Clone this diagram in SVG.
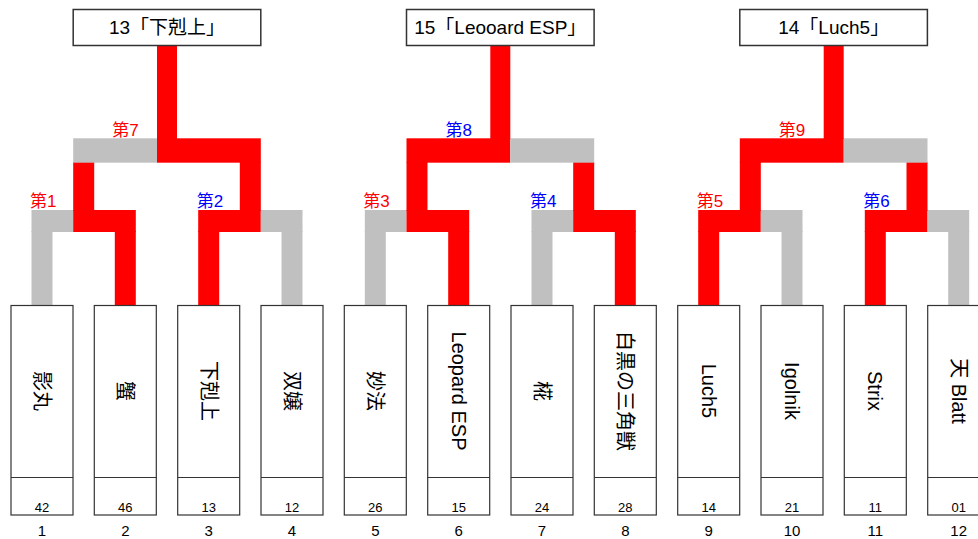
<svg xmlns="http://www.w3.org/2000/svg" width="978" height="539" viewBox="0 0 978 539">
<style>
.r{fill:#ff0000}
.g{fill:#c0c0c0}
.tb{fill:#fff;stroke:#333;stroke-width:1.5}
.pb{fill:#fff;stroke:#333;stroke-width:1.2}
.t{font-family:"Liberation Sans","Noto Sans CJK JP",sans-serif;fill:#000}
.tt{font-size:19px;text-anchor:middle}
.nm{font-size:20px;text-anchor:middle;dominant-baseline:central}
.sd{font-size:13px;text-anchor:middle}
.ix{font-size:15px;text-anchor:middle}
.lb{font-family:"Liberation Sans","Noto Sans CJK JP",sans-serif;font-size:17px}
.lr{fill:#ff0000}
.lbl{fill:#0000ff}
</style>
<rect width="978" height="539" fill="#fff"/>
<g id="connectors">
  <rect class="g" x="31.5" y="231" width="21" height="75"/>
  <rect class="r" x="114.8" y="231" width="21" height="75"/>
  <rect class="r" x="198.2" y="231" width="21" height="75"/>
  <rect class="g" x="281.5" y="231" width="21" height="75"/>
  <rect class="g" x="364.8" y="231" width="21" height="75"/>
  <rect class="r" x="448.2" y="231" width="21" height="75"/>
  <rect class="g" x="531.5" y="231" width="21" height="75"/>
  <rect class="r" x="614.8" y="231" width="21" height="75"/>
  <rect class="r" x="698.2" y="231" width="21" height="75"/>
  <rect class="g" x="781.5" y="231" width="21" height="75"/>
  <rect class="r" x="864.8" y="231" width="21" height="75"/>
  <rect class="g" x="948.2" y="231" width="21" height="75"/>
  <rect class="g" x="31.5" y="210" width="41.7" height="22"/>
  <rect class="r" x="73.2" y="210" width="62.6" height="22"/>
  <rect class="r" x="198.2" y="210" width="62.6" height="22"/>
  <rect class="g" x="260.8" y="210" width="41.7" height="22"/>
  <rect class="g" x="364.8" y="210" width="41.7" height="22"/>
  <rect class="r" x="406.5" y="210" width="62.7" height="22"/>
  <rect class="g" x="531.5" y="210" width="41.7" height="22"/>
  <rect class="r" x="573.2" y="210" width="62.6" height="22"/>
  <rect class="r" x="698.2" y="210" width="62.6" height="22"/>
  <rect class="g" x="760.8" y="210" width="41.7" height="22"/>
  <rect class="r" x="864.8" y="210" width="62.7" height="22"/>
  <rect class="g" x="927.5" y="210" width="41.7" height="22"/>
  <rect class="r" x="73.2" y="162" width="21" height="49"/>
  <rect class="r" x="239.8" y="162" width="21" height="49"/>
  <rect class="r" x="406.5" y="162" width="21" height="49"/>
  <rect class="r" x="573.2" y="162" width="21" height="49"/>
  <rect class="r" x="739.8" y="162" width="21" height="49"/>
  <rect class="r" x="906.5" y="162" width="21" height="49"/>
  <rect class="g" x="73.2" y="138.3" width="83.8" height="24.4"/>
  <rect class="r" x="157" y="138.3" width="103.8" height="24.4"/>
  <rect class="r" x="406.5" y="138.3" width="103.8" height="24.4"/>
  <rect class="g" x="510.3" y="138.3" width="83.9" height="24.4"/>
  <rect class="r" x="739.8" y="138.3" width="103.9" height="24.4"/>
  <rect class="g" x="843.7" y="138.3" width="83.8" height="24.4"/>
  <rect class="r" x="157" y="45" width="20" height="94"/>
  <rect class="r" x="490.3" y="45" width="20" height="94"/>
  <rect class="r" x="823.7" y="45" width="20" height="94"/>
</g>
<g id="match-labels" class="lb">
  <text class="lr" x="30" y="207">第1</text>
  <text class="lbl" x="196.7" y="207">第2</text>
  <text class="lr" x="363.3" y="207">第3</text>
  <text class="lbl" x="530" y="207">第4</text>
  <text class="lr" x="696.7" y="207">第5</text>
  <text class="lbl" x="863.3" y="207">第6</text>
  <text class="lr" x="112.2" y="136">第7</text>
  <text class="lbl" x="445.5" y="136">第8</text>
  <text class="lr" x="778.8" y="136">第9</text>
</g>
<g id="winner-a">
  <rect class="tb" x="73.2" y="9.5" width="187.6" height="36"/>
  <text class="t tt" x="167" y="34">13「下剋上」</text>
</g>
<g id="winner-b">
  <rect class="tb" x="406.5" y="9.5" width="187.6" height="36"/>
  <text class="t tt" x="500.3" y="34">15「Leooard ESP」</text>
</g>
<g id="winner-c">
  <rect class="tb" x="739.8" y="9.5" width="187.6" height="36"/>
  <text class="t tt" x="833.7" y="34">14「Luch5」</text>
</g>
<g id="p1">
  <rect class="pb" x="11" y="305.5" width="62" height="209.5"/><line x1="11" y1="477.5" x2="73" y2="477.5" stroke="#333" stroke-width="1.2"/>
  <text class="t nm" x="42" y="391" transform="rotate(90 42 391)">影丸</text>
  <text class="t sd" x="42" y="512">42</text><text class="t ix" x="42" y="535.5">1</text>
</g>
<g id="p2">
  <rect class="pb" x="94.3" y="305.5" width="62" height="209.5"/><line x1="94.3" y1="477.5" x2="156.3" y2="477.5" stroke="#333" stroke-width="1.2"/>
  <text class="t nm" x="125.3" y="391" transform="rotate(90 125.3 391)">蟹</text>
  <text class="t sd" x="125.3" y="512">46</text><text class="t ix" x="125.3" y="535.5">2</text>
</g>
<g id="p3">
  <rect class="pb" x="177.7" y="305.5" width="62" height="209.5"/><line x1="177.7" y1="477.5" x2="239.7" y2="477.5" stroke="#333" stroke-width="1.2"/>
  <text class="t nm" x="208.7" y="391" transform="rotate(90 208.7 391)">下剋上</text>
  <text class="t sd" x="208.7" y="512">13</text><text class="t ix" x="208.7" y="535.5">3</text>
</g>
<g id="p4">
  <rect class="pb" x="261" y="305.5" width="62" height="209.5"/><line x1="261" y1="477.5" x2="323" y2="477.5" stroke="#333" stroke-width="1.2"/>
  <text class="t nm" x="292" y="391" transform="rotate(90 292 391)">双嬢</text>
  <text class="t sd" x="292" y="512">12</text><text class="t ix" x="292" y="535.5">4</text>
</g>
<g id="p5">
  <rect class="pb" x="344.3" y="305.5" width="62" height="209.5"/><line x1="344.3" y1="477.5" x2="406.3" y2="477.5" stroke="#333" stroke-width="1.2"/>
  <text class="t nm" x="375.3" y="391" transform="rotate(90 375.3 391)">妙法</text>
  <text class="t sd" x="375.3" y="512">26</text><text class="t ix" x="375.3" y="535.5">5</text>
</g>
<g id="p6">
  <rect class="pb" x="427.7" y="305.5" width="62" height="209.5"/><line x1="427.7" y1="477.5" x2="489.7" y2="477.5" stroke="#333" stroke-width="1.2"/>
  <text class="t nm" x="458.7" y="391" transform="rotate(90 458.7 391)">Leopard ESP</text>
  <text class="t sd" x="458.7" y="512">15</text><text class="t ix" x="458.7" y="535.5">6</text>
</g>
<g id="p7">
  <rect class="pb" x="511" y="305.5" width="62" height="209.5"/><line x1="511" y1="477.5" x2="573" y2="477.5" stroke="#333" stroke-width="1.2"/>
  <text class="t nm" x="542" y="391" transform="rotate(90 542 391)">椛</text>
  <text class="t sd" x="542" y="512">24</text><text class="t ix" x="542" y="535.5">7</text>
</g>
<g id="p8">
  <rect class="pb" x="594.3" y="305.5" width="62" height="209.5"/><line x1="594.3" y1="477.5" x2="656.3" y2="477.5" stroke="#333" stroke-width="1.2"/>
  <text class="t nm" x="625.3" y="391" transform="rotate(90 625.3 391)">白黒の三角獣</text>
  <text class="t sd" x="625.3" y="512">28</text><text class="t ix" x="625.3" y="535.5">8</text>
</g>
<g id="p9">
  <rect class="pb" x="677.7" y="305.5" width="62" height="209.5"/><line x1="677.7" y1="477.5" x2="739.7" y2="477.5" stroke="#333" stroke-width="1.2"/>
  <text class="t nm" x="708.7" y="391" transform="rotate(90 708.7 391)">Luch5</text>
  <text class="t sd" x="708.7" y="512">14</text><text class="t ix" x="708.7" y="535.5">9</text>
</g>
<g id="p10">
  <rect class="pb" x="761" y="305.5" width="62" height="209.5"/><line x1="761" y1="477.5" x2="823" y2="477.5" stroke="#333" stroke-width="1.2"/>
  <text class="t nm" x="792" y="391" transform="rotate(90 792 391)">Igolnik</text>
  <text class="t sd" x="792" y="512">21</text><text class="t ix" x="792" y="535.5">10</text>
</g>
<g id="p11">
  <rect class="pb" x="844.3" y="305.5" width="62" height="209.5"/><line x1="844.3" y1="477.5" x2="906.3" y2="477.5" stroke="#333" stroke-width="1.2"/>
  <text class="t nm" x="875.3" y="391" transform="rotate(90 875.3 391)">Strix</text>
  <text class="t sd" x="875.3" y="512">11</text><text class="t ix" x="875.3" y="535.5">11</text>
</g>
<g id="p12">
  <rect class="pb" x="927.7" y="305.5" width="62" height="209.5"/><line x1="927.7" y1="477.5" x2="989.7" y2="477.5" stroke="#333" stroke-width="1.2"/>
  <text class="t nm" x="958.7" y="391" transform="rotate(90 958.7 391)">天 Blatt</text>
  <text class="t sd" x="958.7" y="512">01</text><text class="t ix" x="958.7" y="535.5">12</text>
</g>
</svg>
